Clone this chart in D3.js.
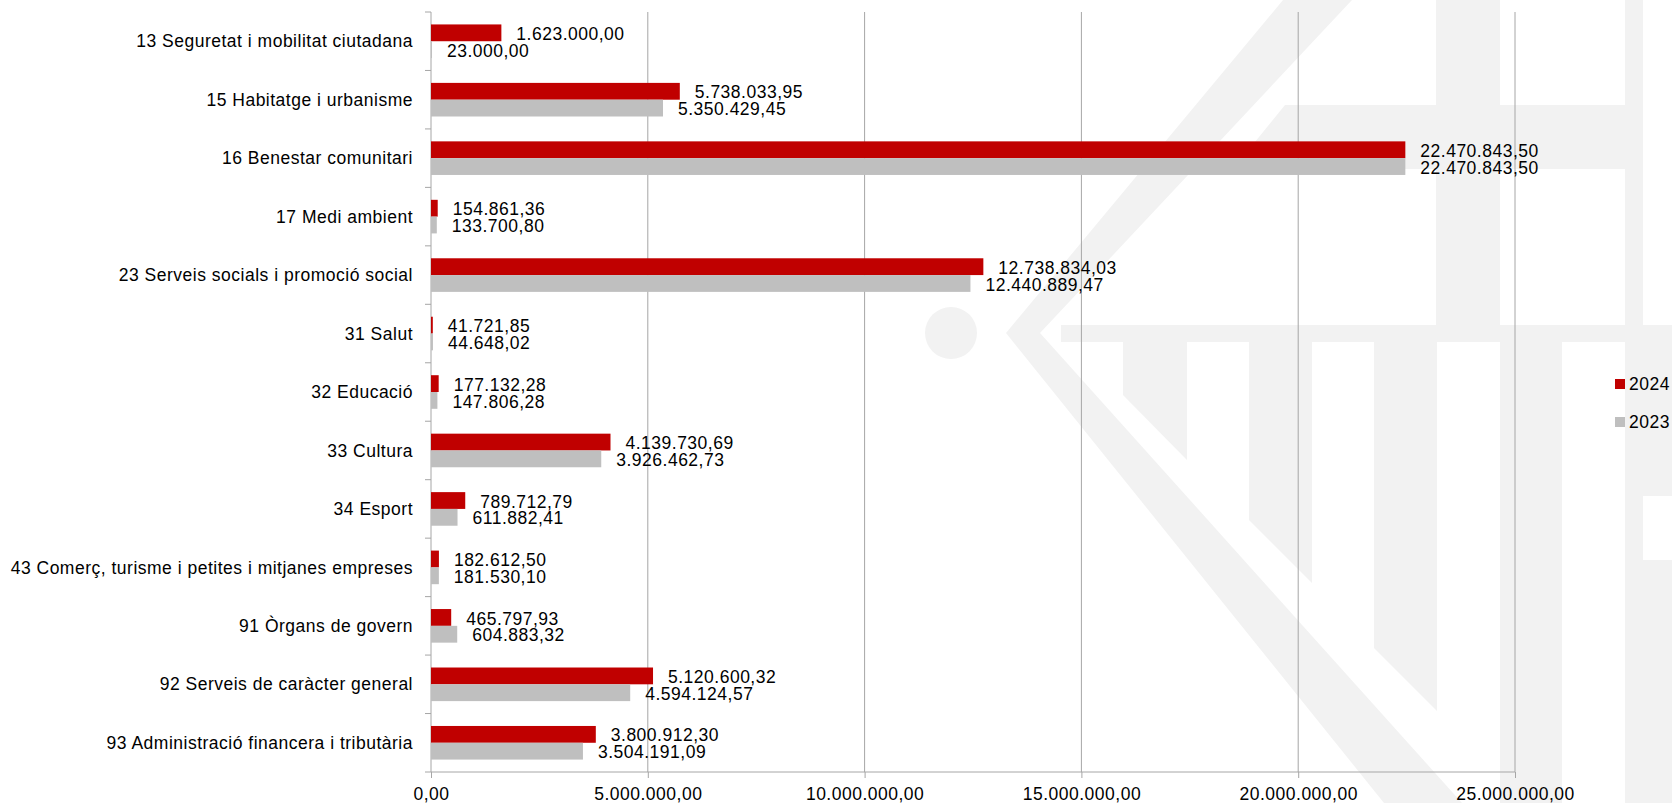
<!DOCTYPE html>
<html>
<head>
<meta charset="utf-8">
<script src="https://cdn.jsdelivr.net/npm/d3@7"></script>
<style>
  body { margin: 0; background: #fff; }
  svg { display: block; font-family: "Liberation Sans", Arial, sans-serif; }
  svg text { font-size: 17.5px; letter-spacing: 0.5px; fill: #000; }
</style>
</head>
<body>
<svg id="chart" width="1672" height="803"></svg>
<script>
// chart data
let categories = [
    "13 Seguretat i mobilitat ciutadana",
    "15 Habitatge i urbanisme",
    "16 Benestar comunitari ",
    "17 Medi ambient",
    "23 Serveis socials i promoció social",
    "31 Salut",
    "32 Educació",
    "33 Cultura",
    "34 Esport",
    "43 Comerç, turisme i petites i mitjanes empreses",
    "91 Òrgans de govern",
    "92 Serveis de caràcter general",
    "93 Administració financera i tributària"
];
let values2024 = [1623000.00, 5738033.95, 22470843.50, 154861.36, 12738834.03, 41721.85,
    177132.28, 4139730.69, 789712.79, 182612.50, 465797.93, 5120600.32, 3800912.30];
let values2023 = [23000.00, 5350429.45, 22470843.50, 133700.80, 12440889.47, 44648.02,
    147806.28, 3926462.73, 611882.41, 181530.10, 604883.32, 4594124.57, 3504191.09];
let seriesNames = ["2024", "2023"];
let seriesColors = ["#c00000", "#bfbfbf"];
let xTicks = [0, 5000000, 10000000, 15000000, 20000000, 25000000];

let width = 1672;
let height = 803;
let plotTop = 12, plotBottom = 772, plotLeft = 431, plotRight = 1515;

let locale = d3.formatLocale({decimal: ",", thousands: ".", grouping: [3], currency: ["", ""]});
let fmt = locale.format(",.2f");

let svg = d3.select("#chart");

let x = d3.scaleLinear()
    .domain([0, 25000000])
    .range([plotLeft, plotRight]);

let y = d3.scaleBand()
    .domain(categories)
    .range([plotTop, plotBottom]);

let barH = 16.8;

function drawWatermark() {
    // faint logo in the background
    let g = svg.append("g").attr("fill", "#f2f2f2");
    let shapes = [
        [[1283, 0], [1352, 0], [1040, 333], [1006, 333]],
        [[1006, 333], [1040, 333], [1462, 803], [1384, 803]],
        [[1061, 325], [1672, 325], [1672, 342], [1061, 342]],
        [[1285, 105], [1625, 105], [1625, 169], [1233, 169]],
        [[1436, 0], [1500, 0], [1500, 325], [1436, 325]],
        [[1625, 0], [1643, 0], [1643, 803], [1625, 803]],
        [[1123, 342], [1187, 342], [1187, 460], [1123, 395]],
        [[1249, 342], [1312, 342], [1312, 583], [1249, 520]],
        [[1374, 342], [1437, 342], [1437, 711], [1374, 648]],
        [[1500, 342], [1562, 342], [1562, 803], [1500, 803]],
        [[1643, 342], [1672, 342], [1672, 496], [1643, 496]],
        [[1643, 560], [1672, 560], [1672, 803], [1643, 803]]
    ];
    g.selectAll("polygon")
        .data(shapes)
        .enter().append("polygon")
        .attr("points", d => d.map(p => p.join(",")).join(" "));
    g.append("circle").attr("cx", 951).attr("cy", 333).attr("r", 26);
}

function drawAxes() {
    // vertical gridlines
    svg.append("g")
        .selectAll("line")
        .data(xTicks.filter(t => t > 0))
        .enter().append("line")
        .attr("x1", d => x(d)).attr("x2", d => x(d))
        .attr("y1", plotTop).attr("y2", plotBottom)
        .attr("stroke", "#a6a6a6")
        .attr("stroke-width", 1);

    let xAxis = d3.axisBottom(x)
        .tickValues(xTicks)
        .tickSize(6)
        .tickPadding(10)
        .tickFormat(fmt);

    let gx = svg.append("g")
        .attr("transform", "translate(0," + plotBottom + ")")
        .call(xAxis);
    gx.attr("font-family", null).attr("font-size", null);
    gx.select(".domain").attr("stroke", "#a6a6a6").attr("d", "M" + plotLeft + ",0H" + plotRight);
    gx.selectAll(".tick line").attr("stroke", "#a6a6a6");

    // category axis
    let gy = svg.append("g");
    gy.append("line")
        .attr("x1", plotLeft).attr("x2", plotLeft)
        .attr("y1", plotTop).attr("y2", plotBottom)
        .attr("stroke", "#a6a6a6");
    let bounds = categories.map(c => y(c)).concat([plotBottom]);
    gy.selectAll(".ytick")
        .data(bounds)
        .enter().append("line")
        .attr("class", "ytick")
        .attr("x1", plotLeft - 6).attr("x2", plotLeft)
        .attr("y1", d => d).attr("y2", d => d)
        .attr("stroke", "#a6a6a6");
    gy.selectAll("text")
        .data(categories)
        .enter().append("text")
        .attr("x", plotLeft - 18)
        .attr("y", d => y(d) + y.bandwidth() / 2)
        .attr("dy", "0.35em")
        .attr("text-anchor", "end")
        .text(d => d);
}

function drawBars() {
    let series = [values2024, values2023];
    let offset = (y.bandwidth() - 2 * barH) / 2;

    series.forEach(function(vals, s) {
        let rows = categories.map((c, i) => ({cat: c, value: vals[i]}));
        let g = svg.append("g");
        g.selectAll("rect")
            .data(rows)
            .enter().append("rect")
            .attr("x", x(0))
            .attr("y", d => y(d.cat) + offset + s * barH)
            .attr("width", d => x(d.value) - x(0))
            .attr("height", barH)
            .attr("fill", seriesColors[s]);
        g.selectAll("text")
            .data(rows)
            .enter().append("text")
            .attr("x", d => x(d.value) + 15)
            .attr("y", d => y(d.cat) + offset + s * barH + barH / 2 + 1)
            .attr("dy", "0.35em")
            .text(d => fmt(d.value));
    });
}

function drawLegend() {
    let g = svg.append("g");
    seriesNames.forEach(function(name, i) {
        let cy = 384 + i * 38;
        g.append("rect")
            .attr("x", 1615).attr("y", cy - 5)
            .attr("width", 10).attr("height", 10)
            .attr("fill", seriesColors[i]);
        g.append("text")
            .attr("x", 1629).attr("y", cy)
            .attr("dy", "0.35em")
            .text(name);
    });
}

drawWatermark();
drawAxes();
drawBars();
drawLegend();
</script>
</body>
</html>
